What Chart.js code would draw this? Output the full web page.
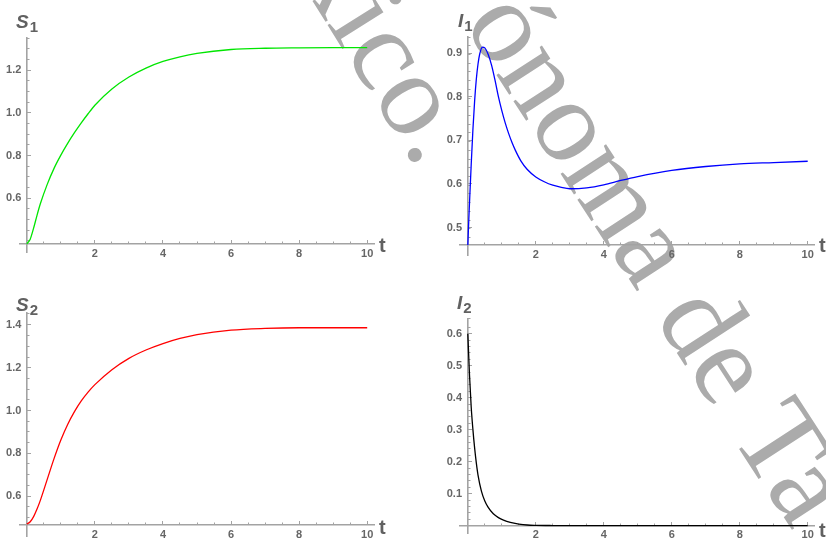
<!DOCTYPE html>
<html>
<head>
<meta charset="utf-8">
<script src="https://cdn.jsdelivr.net/npm/chart.js@4.4.1/dist/chart.umd.min.js"></script>
<style>
  html, body { margin: 0; padding: 0; background: #fff; }
  body { width: 826px; height: 539px; position: relative; overflow: hidden;
         font-family: "Liberation Sans", Arial, sans-serif; }
  .wm { position: absolute; left: 0; top: 0; font-family: "Liberation Serif", "Times New Roman", serif;
        font-size: 118px; line-height: 1; color: #ababab; white-space: pre; transform-origin: 0 0; }
  canvas { position: absolute; }
  .name { position: absolute; font-weight: bold; color: #616161; line-height: 1; white-space: nowrap; }
  .name .v { font-style: italic; font-size: 19px; }
  .name .sb { font-size: 15px; position: relative; top: 4px; margin-left: 1px; }
  .name.t { font-size: 20px; }
</style>
</head>
<body>
<div class="wm" style="transform: translate(378px,-79px) rotate(58deg)">xico.</div>
<div class="wm" style="transform: translate(545px,-30px) rotate(57deg)">ónoma de Ta</div>

<canvas id="cS1" width="413" height="270" style="left:0;top:0"></canvas>
<canvas id="cI1" width="413" height="270" style="left:413px;top:0"></canvas>
<canvas id="cS2" width="413" height="269" style="left:0;top:270px"></canvas>
<canvas id="cI2" width="413" height="269" style="left:413px;top:270px"></canvas>

<div class="name" style="left:16px;top:12px"><span class="v">S</span><span class="sb">1</span></div>
<div class="name" style="left:458px;top:11px"><span class="v">I</span><span class="sb">1</span></div>
<div class="name" style="left:16px;top:295px"><span class="v">S</span><span class="sb">2</span></div>
<div class="name" style="left:457px;top:293px"><span class="v">I</span><span class="sb">2</span></div>
<div class="name t" style="left:379px;top:235px">t</div>
<div class="name t" style="left:819px;top:235px">t</div>
<div class="name t" style="left:379px;top:517px">t</div>
<div class="name t" style="left:819px;top:520px">t</div>

<script>
// Tick labels
const xTicks  = [2, 4, 6, 8, 10];
const s1Ticks = [0.6, 0.8, 1.0, 1.2];
const i1Ticks = [0.5, 0.6, 0.7, 0.8, 0.9];
const s2Ticks = [0.6, 0.8, 1.0, 1.2, 1.4];
const i2Ticks = [0.1, 0.2, 0.3, 0.4, 0.5, 0.6];

// S1(t)
const tS1 = [0, 0.1, 0.2, 0.3, 0.4, 0.6, 0.8, 1.0, 1.2, 1.4, 1.6, 1.8, 2, 2.5, 3, 3.5, 4, 4.5, 5, 6, 7, 8, 9, 10];
const s1  = [0.386, 0.408, 0.460, 0.520, 0.575, 0.665, 0.740, 0.802, 0.857, 0.907, 0.953, 0.996, 1.036, 1.112, 1.168, 1.210, 1.241, 1.263, 1.279, 1.297, 1.303, 1.305, 1.306, 1.306];

// I1(t)
const tI1 = [0, 0.03, 0.06, 0.1, 0.15, 0.2, 0.25, 0.3, 0.35, 0.43, 0.5, 0.6, 0.7, 0.8, 0.9, 1.0, 1.1, 1.2, 1.3, 1.4, 1.56, 1.75, 2, 2.25, 2.5, 2.75, 3, 3.5, 4, 4.5, 5, 6, 7, 8, 9, 10];
const i1  = [0.460, 0.520, 0.575, 0.645, 0.725, 0.790, 0.840, 0.875, 0.898, 0.914, 0.912, 0.897, 0.872, 0.838, 0.800, 0.768, 0.740, 0.716, 0.695, 0.677, 0.653, 0.633, 0.616, 0.605, 0.597, 0.592, 0.589, 0.591, 0.598, 0.608, 0.617, 0.631, 0.640, 0.646, 0.649, 0.652];

// S2(t)
const tS2 = [0, 0.1, 0.2, 0.3, 0.4, 0.6, 0.8, 1.0, 1.2, 1.4, 1.6, 1.8, 2, 2.5, 3, 3.5, 4, 4.5, 5, 6, 7, 8, 9, 10];
const s2  = [0.469, 0.480, 0.504, 0.539, 0.581, 0.678, 0.775, 0.862, 0.935, 0.995, 1.045, 1.086, 1.121, 1.191, 1.244, 1.283, 1.313, 1.337, 1.355, 1.376, 1.384, 1.387, 1.387, 1.387];

// I2(t)
const tI2 = [0, 0.05, 0.1, 0.15, 0.2, 0.25, 0.3, 0.4, 0.5, 0.6, 0.75, 0.9, 1.05, 1.25, 1.5, 1.75, 2, 2.5, 3, 4, 5, 6, 7, 8, 9, 10];
const i2  = [0.600, 0.470, 0.370, 0.300, 0.243, 0.196, 0.158, 0.108, 0.077, 0.057, 0.037, 0.025, 0.017, 0.010, 0.005, 0.002, 0.001, 0.0003, 0, 0, 0, 0, 0, 0, 0, 0];

const AXIS = '#a3a3a3';
const LABEL = '#666666';
const tickFont = { family: '"Liberation Sans", Arial, sans-serif', size: 11, weight: 'bold' };

const useValues = vals => s => { s.ticks = vals.map(v => ({ value: v })); };
const keepBetween = (lo, hi) => s => { s.ticks = s.ticks.filter(t => t.value > lo + 1e-9 && t.value <= hi + 1e-9); };
const noPad = s => { s.paddingLeft = s.paddingRight = s.paddingTop = s.paddingBottom = 0; };

function tickAxis(axis, range, position, len, extra) {
  return Object.assign({
    type: 'linear', axis, ...range, position,
    border: { display: false },
    grid: { display: true, drawOnChartArea: false, drawTicks: true, tickLength: len, tickColor: AXIS, tickWidth: 1 },
    ticks: { display: false },
    afterFit: noPad
  }, extra);
}

function panel(id, p) {
  const points = p.t.map((t, i) => ({ x: t, y: p.v[i] }));
  const xr = { min: p.xMin, max: p.xMax };
  const yr = { min: p.yMin, max: p.yMax };
  new Chart(document.getElementById(id), {
    type: 'line',
    data: { datasets: [{ data: points, borderColor: p.color, borderWidth: 1.3, pointRadius: 0,
                         cubicInterpolationMode: 'monotone', fill: false }] },
    options: {
      responsive: false, animation: false, devicePixelRatio: 1,
      layout: { padding: p.pad },
      plugins: { legend: { display: false }, tooltip: { enabled: false } },
      scales: {
        x: { type: 'linear', ...xr, position: { y: p.cross },
             border: { display: true, color: AXIS, width: 1.6 },
             grid: { display: false, drawTicks: false },
             ticks: { font: tickFont, color: LABEL, padding: 3, maxRotation: 0, autoSkip: false, callback: v => String(v) },
             afterBuildTicks: useValues(xTicks), afterFit: noPad },
        xMaj: tickAxis('x', xr, { y: p.cross }, -4, { afterBuildTicks: useValues(xTicks) }),
        xMin: tickAxis('x', xr, { y: p.cross }, -2.5, { ticks: { display: false, stepSize: 0.5 }, afterBuildTicks: keepBetween(0, 10) }),
        y: { type: 'linear', ...yr, position: { x: 0 },
             border: { display: true, color: AXIS, width: 1.6 },
             grid: { display: false, drawTicks: false },
             ticks: { display: false }, afterFit: noPad },
        yLab: { type: 'linear', axis: 'y', ...yr, position: { x: p.labelAt },
                border: { display: false },
                grid: { display: false, drawTicks: false },
                ticks: { font: tickFont, color: LABEL, padding: 0, autoSkip: false, callback: v => v.toFixed(1) },
                afterBuildTicks: useValues(p.yTicks), afterFit: noPad },
        yMaj: tickAxis('y', yr, { x: 0 }, -4, { afterBuildTicks: useValues(p.yTicks) }),
        yMin: tickAxis('y', yr, { x: 0 }, -2.5, { ticks: { display: false, stepSize: p.minor }, afterBuildTicks: keepBetween(p.cross, p.yMax) })
      }
    }
  });
}

panel('cS1', { t: tS1, v: s1, color: '#00e600', yTicks: s1Ticks, minor: 0.05,
  xMin: -0.2, xMax: 10.2, yMin: 0.348, yMax: 1.351, cross: 0.386, labelAt: -0.16,
  pad: { left: 20, right: 39, top: 38, bottom: 18 } });
panel('cI1', { t: tI1, v: i1, color: '#0000ff', yTicks: i1Ticks, minor: 0.02,
  xMin: -0.23, xMax: 10.2, yMin: 0.437, yMax: 0.937, cross: 0.46, labelAt: -0.17,
  pad: { left: 47, right: 11.5, top: 37, bottom: 15 } });
panel('cS2', { t: tS2, v: s2, color: '#ff0000', yTicks: s2Ticks, minor: 0.05,
  xMin: -0.2, xMax: 10.2, yMin: 0.41, yMax: 1.456, cross: 0.464, labelAt: -0.16,
  pad: { left: 20, right: 39, top: 43, bottom: 2.3 } });
panel('cI2', { t: tI2, v: i2, color: '#000000', yTicks: i2Ticks, minor: 0.02,
  xMin: -0.23, xMax: 10.2, yMin: -0.023, yMax: 0.648, cross: 0, labelAt: -0.17,
  pad: { left: 47, right: 11.5, top: 48.3, bottom: 6 } });
</script>
</body>
</html>
